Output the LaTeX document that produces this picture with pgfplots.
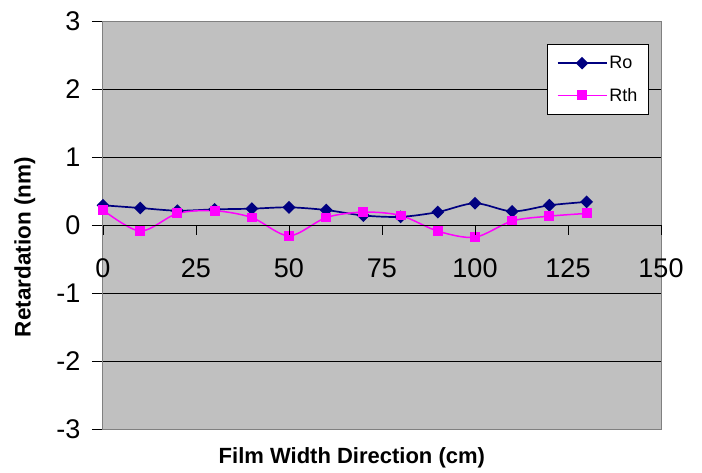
\documentclass[border=0pt]{standalone}
\usepackage{fontspec}
\setmainfont{Liberation Sans}
\usepackage{pgfplots}
\pgfplotsset{compat=1.18}
\definecolor{plotgray}{HTML}{C0C0C0}
\definecolor{ronavy}{HTML}{000080}
\definecolor{rthmag}{HTML}{FF00FF}
\definecolor{bordergray}{HTML}{808080}
\begin{document}
\begin{tikzpicture}
\useasboundingbox (0,0) rectangle (702pt,472pt);
\begin{axis}[
  at={(103pt,43pt)}, anchor=south west,
  scale only axis, width=558pt, height=408pt,
  xmin=0, xmax=150, ymin=-3, ymax=3,
  axis background/.style={fill=plotgray},
  axis line style={bordergray, line width=1pt},
  xtick=\empty,
  ytick={-3,-2,-1,0,1,2,3}, yticklabels={-3,-2,-1,0,1,2,3},
  ymajorgrids, grid style={black, line width=0.8pt},
  y tick style={black, line width=0.8pt},
  tick align=outside, major tick length=11pt,
  ytick pos=left,
  yticklabel style={font=\fontsize{27}{32}\selectfont, anchor=east, xshift=-8pt},
  ylabel={Retardation (nm)},
  ylabel style={font=\bfseries\fontsize{22.5}{27}\selectfont, at={(axis description cs:-0.14,0.5)}, anchor=center, xshift=-22pt},
  xlabel={Film Width Direction (cm)},
  xlabel style={font=\bfseries\fontsize{22}{26}\selectfont, at={(axis description cs:0.446,-0.071)}, anchor=center},
  legend style={at={(rel axis cs:0.978,0.944)}, anchor=north east, draw=black, fill=white, line width=0.8pt,
    font=\fontsize{18}{22}\selectfont, inner xsep=9pt, inner ysep=10pt, row sep=14pt},
  legend cell align=left,
  legend image code/.code={\draw[line width=1.5pt, mark repeat=2,mark phase=2] plot coordinates {(0pt,0pt) (24.5pt,0pt) (49pt,0pt)};},
]
\addplot[ronavy, line width=1.7pt, smooth, mark=square*, mark size=3.7pt, mark options={rotate=45, solid, fill=ronavy}]
  coordinates {(0,0.29) (10,0.25) (20,0.21) (30,0.23) (40,0.24) (50,0.26) (60,0.22) (70,0.14) (80,0.12) (90,0.19) (100,0.32) (110,0.20) (120,0.29) (130,0.34)};
\addlegendentry{Ro}
\addplot[rthmag, line width=1.5pt, smooth, mark=square*, mark size=4.2pt, mark options={solid, fill=rthmag}]
  coordinates {(0,0.22) (10,-0.09) (20,0.17) (30,0.21) (40,0.11) (50,-0.16) (60,0.11) (70,0.19) (80,0.14) (90,-0.09) (100,-0.18) (110,0.06) (120,0.13) (130,0.17)};
\addlegendentry{Rth}
\end{axis}
\begin{axis}[
  at={(103pt,43pt)}, anchor=south west,
  scale only axis, width=558pt, height=408pt,
  xmin=0, xmax=150, ymin=-3, ymax=3,
  axis x line=middle, axis y line=none,
  axis line style={black, line width=0.8pt, -},
  xtick={0,25,50,75,100,125,150}, xticklabels={0,25,50,75,100,125,150},
  ytick=\empty,
  tick align=center, major tick length=10pt,
  x tick style={black, line width=0.8pt, yshift=-5pt},
  xticklabel style={font=\fontsize{27}{32}\selectfont, anchor=center, yshift=-38pt},
]
\addplot[draw=none] coordinates {(0,0)};
\end{axis}
\end{tikzpicture}
\end{document}
